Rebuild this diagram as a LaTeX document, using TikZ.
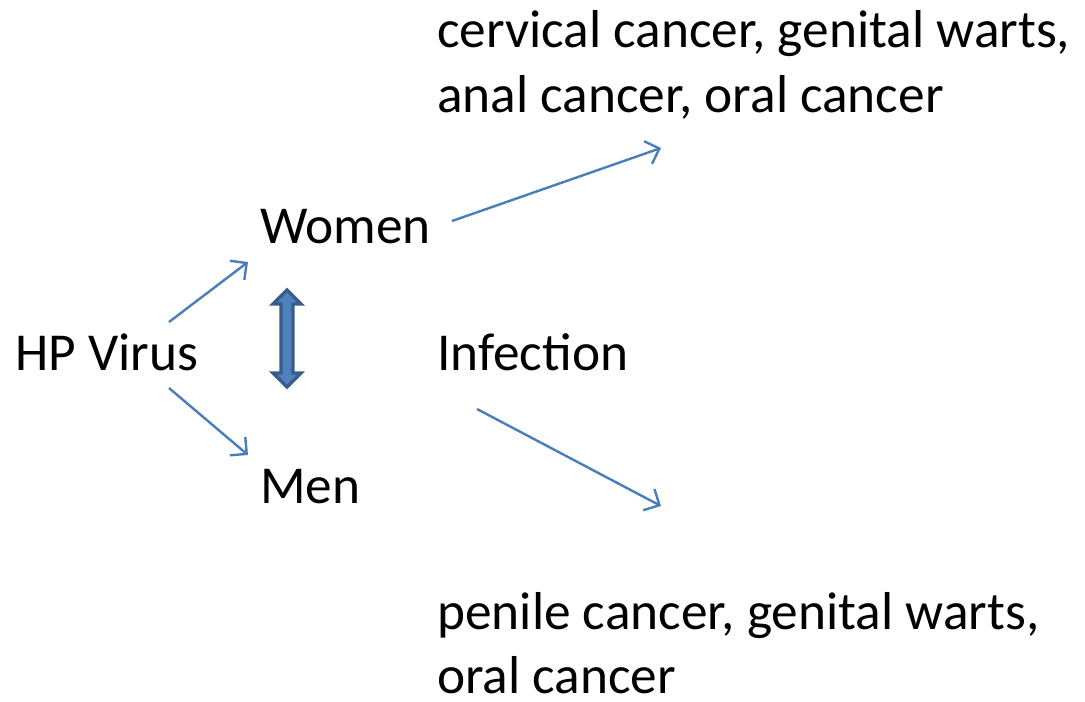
\documentclass[tikz,border=0pt]{standalone}
\usepackage{fontspec}
\setmainfont{Carlito}
\usetikzlibrary{arrows.meta}

\definecolor{linkblue}{HTML}{4A7EBB}
\definecolor{shaftblue}{HTML}{4F81BD}
\definecolor{rimblue}{HTML}{385D8A}

\tikzset{
  label/.style={anchor=base west,inner sep=0pt,font=\fontsize{40}{40}\selectfont},
  link/.style={draw=linkblue,line width=1.8pt,-{Straight Barb[length=9pt,width=18pt,line width=1.8pt]}}
}

\begin{document}
\begin{tikzpicture}[x=0.75pt,y=-0.75pt]
		\useasboundingbox (0,0) rectangle (1085,701);

		% >>> labels
		\node[label] (virus) at (15,370) {HP Virus};
		\node[label] (women) at (260,243) {Women};
		\node[label] (men) at (260,503) {Men};
		\node[label] (infection) at (437,370) {Infection};
		\node[label] (fem1) at (437,47) {cervical cancer, genital warts,};
		\node[label] (fem2) at (437,112) {anal cancer, oral cancer};
		\node[label] (mal1) at (437,629) {penile cancer, genital warts,};
		\node[label] (mal2) at (437,693) {oral cancer};
		% <<< labels

		% >>> arrow ends
		\coordinate (v-up) at (169,322);
		\coordinate (v-down) at (169,388);
		\coordinate (w-in) at (248,262);
		\coordinate (m-in) at (248,455);
		\coordinate (w-out) at (452,221);
		\coordinate (fem-in) at (661,148);
		\coordinate (i-out) at (477,409);
		\coordinate (mal-in) at (661,506);
		% <<< arrow ends

		% >>> connectors
		\draw[link] (v-up) -- (w-in);
		\draw[link] (v-down) -- (m-in);
		\draw[link] (w-out) -- (fem-in);
		\draw[link] (i-out) -- (mal-in);
		% <<< connectors

		% >>> two-way arrow
		\filldraw[fill=shaftblue,draw=rimblue,line width=2.5pt,line join=miter]
			(287,290) -- (301,304) -- (293,304) -- (293,373) -- (301,373)
			-- (287,387) -- (273,373) -- (281,373) -- (281,304) -- (273,304) -- cycle;
		% <<< two-way arrow
	\end{tikzpicture}
\end{document}
